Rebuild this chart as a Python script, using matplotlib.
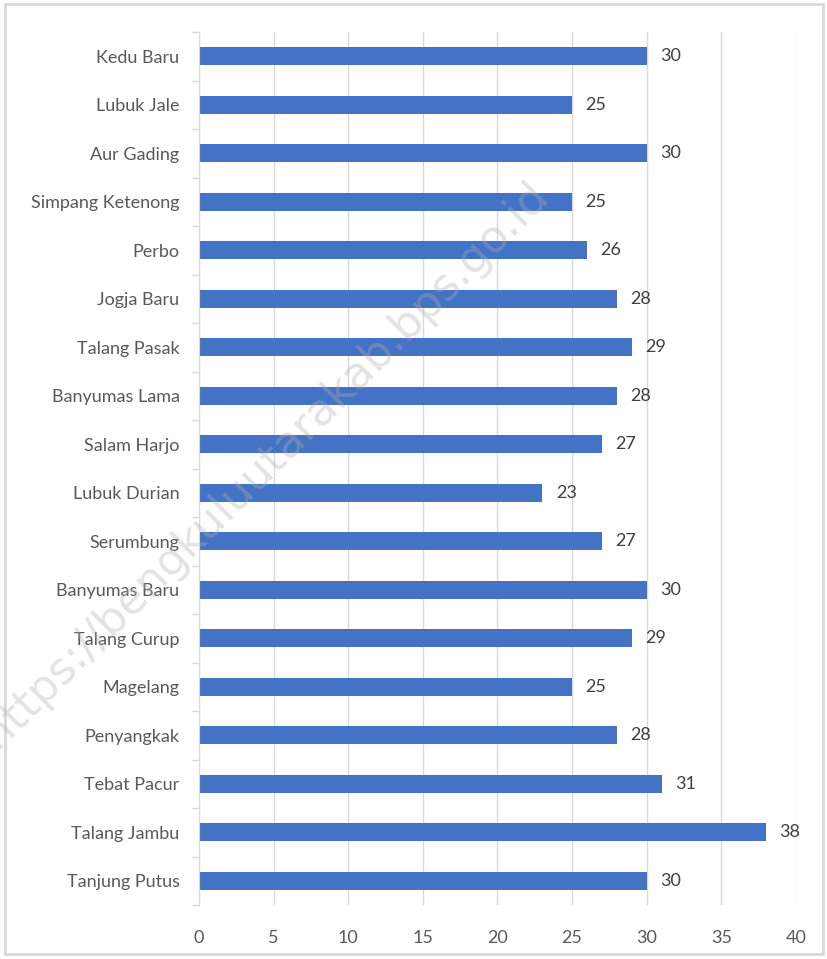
import matplotlib
matplotlib.use("Agg")
import matplotlib.pyplot as plt
from matplotlib.patches import Rectangle

categories = ["Kedu Baru", "Lubuk Jale", "Aur Gading", "Simpang Ketenong", "Perbo",
              "Jogja Baru", "Talang Pasak", "Banyumas Lama", "Salam Harjo", "Lubuk Durian",
              "Serumbung", "Banyumas Baru", "Talang Curup", "Magelang", "Penyangkak",
              "Tebat Pacur", "Talang Jambu", "Tanjung Putus"]
values = [30, 25, 30, 25, 26, 28, 29, 28, 27, 23, 27, 30, 29, 25, 28, 31, 38, 30]
xticks = [0, 5, 10, 15, 20, 25, 30, 35, 40]

plt.rcParams['font.family'] = ['Lato', 'DejaVu Sans']
fig = plt.figure(figsize=(8.28, 9.59), dpi=100)
ax = fig.add_axes([199/828, 1-905/959, (796-199)/828, (905-32)/959])

n = len(categories)
ypos = list(range(n))[::-1]
ax.barh(ypos, values, height=0.37, color="#4472C4", zorder=3)
for y, v in zip(ypos, values):
    ax.text(v + 0.9, y, str(v), va="center", ha="left", fontsize=13, color="#404040")

ax.set_xlim(0, 40)
ax.set_ylim(-0.5, n - 0.5)
ax.set_xticks(xticks)
ax.set_xticklabels([str(t) for t in xticks], fontsize=13, color="#595959")
ax.set_yticks(ypos)
ax.set_yticklabels(categories, fontsize=13, color="#595959")
ax.set_yticks([i - 0.5 for i in range(n + 1)], minor=True)
ax.tick_params(axis="y", which="major", length=0, pad=14)
ax.tick_params(axis="y", which="minor", length=5, color="#D9D9D9", width=1)
ax.tick_params(axis="x", length=0, pad=18)
ax.grid(axis="x", color="#D9D9D9", linewidth=1, zorder=0)
for s in ["top", "right", "bottom"]:
    ax.spines[s].set_visible(False)
ax.spines["left"].set_color("#D9D9D9")
ax.spines["left"].set_zorder(4)

fig.patches.append(Rectangle((5/828, 5/959), 818/828, 950/959, transform=fig.transFigure,
                             fill=False, edgecolor="#D9D9D9", linewidth=2))
fig.text(0.32, 0.515, "https://bengkuluutarakab.bps.go.id", rotation=45, fontsize=32,
         color="#B0B0B0", alpha=0.35, ha="center", va="center",
         family=["DejaVu Sans"])

fig.savefig("out.png", dpi=100)
